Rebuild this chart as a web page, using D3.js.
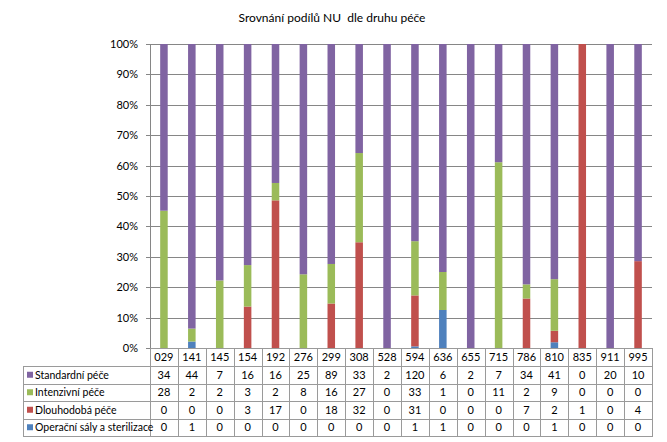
<!DOCTYPE html>
<html><head><meta charset="utf-8">
<script src="https://cdn.jsdelivr.net/npm/d3@7"></script>
<style>body{margin:0;background:#fff}svg{display:block}text{font-family:"Lato","Liberation Sans",sans-serif;fill:#000;white-space:pre}</style>
</head><body><svg id="c" width="667" height="442"></svg>
<script>
const title = "Srovnání podílů NU  dle druhu péče";
const categories = ["029","141","145","154","192","276","299","308","528","594","636","655","715","786","810","835","911","995"];
const seriesNames = ["Standardní péče","Intenzivní péče","Dlouhodobá péče","Operační sály a sterilizace"];
const standardni = [34,44,7,16,16,25,89,33,2,120,6,2,7,34,41,0,20,10];
const intenzivni = [28,2,2,3,2,8,16,27,0,33,1,0,11,2,9,0,0,0];
const dlouhodoba = [0,0,0,3,17,0,18,32,0,31,0,0,0,7,2,1,0,4];
const operacni = [0,1,0,0,0,0,0,0,0,1,1,0,0,0,1,0,0,0];
const colors = ["#8064A2","#9BBB59","#C0504D","#4F81BD"];
const yTicks = [0,0.1,0.2,0.3,0.4,0.5,0.6,0.7,0.8,0.9,1];

const seriesVals = [standardni,intenzivni,dlouhodoba,operacni];
const svg = d3.select("#c");
const L=150, R=652, T=44, B=348;
const x = d3.scaleBand().domain(categories).range([L,R]).paddingInner(0.73).paddingOuter(0.365);
const xc = d3.scaleBand().domain(categories).range([L,R]);
const y = d3.scaleLinear().domain([0,1]).range([B,T]);

svg.append("text").attr("x",332).attr("y",22).attr("text-anchor","middle").style("font-size","12px")
  .attr("xml:space","preserve").text(title);

// gridlines
svg.append("g").selectAll("line").data(yTicks).join("line")
  .attr("x1",L-4).attr("x2",R).attr("y1",d=>Math.round(y(d))+0.5).attr("y2",d=>Math.round(y(d))+0.5)
  .attr("stroke","#868686").attr("stroke-width",1);
svg.append("line").attr("x1",L+0.5).attr("x2",L+0.5).attr("y1",T).attr("y2",B).attr("stroke","#868686");
svg.append("g").selectAll("text").data(yTicks).join("text")
  .attr("x",L-12).attr("y",d=>y(d)+4).attr("text-anchor","end").style("font-size","11px")
  .text(d3.format(".0%"));

// stack: bottom order operacni, dlouhodoba, intenzivni, standardni
const rows = categories.map((c,i)=>{const o={cat:c}; seriesNames.forEach((s,k)=>o[s]=seriesVals[k][i]); return o;});
const stack = d3.stack().keys(seriesNames.slice().reverse()).offset(d3.stackOffsetExpand);
const layers = stack(rows);
svg.append("g").selectAll("g").data(layers).join("g")
  .attr("fill",d=>colors[seriesNames.indexOf(d.key)])
  .selectAll("rect").data(d=>d.filter(p=>!isNaN(p[1]))).join("rect")
  .attr("x",d=>x(d.data.cat)).attr("width",x.bandwidth())
  .attr("y",d=>y(d[1])).attr("height",d=>Math.max(0,y(d[0])-y(d[1])));

// data table
const tb = svg.append("g");
const rowTops=[348,366,383.5,401,418.5,436];
const TL=23;
const stroke="#9a9a9a";
rowTops.forEach((ry,i)=>{
  tb.append("line").attr("x1",i===0?L:TL).attr("x2",R+1).attr("y1",Math.round(ry)+0.5).attr("y2",Math.round(ry)+0.5).attr("stroke",stroke);
});
categories.forEach((c,i)=>{
  tb.append("line").attr("x1",Math.round(xc(c))+0.5).attr("x2",Math.round(xc(c))+0.5).attr("y1",348).attr("y2",436).attr("stroke",stroke);
});
tb.append("line").attr("x1",R+0.5).attr("x2",R+0.5).attr("y1",348).attr("y2",436).attr("stroke",stroke);
tb.append("line").attr("x1",TL+0.5).attr("x2",TL+0.5).attr("y1",366).attr("y2",436).attr("stroke",stroke);
tb.selectAll("text.h").data(categories).join("text").attr("class","h")
  .attr("x",d=>xc(d)+xc.bandwidth()/2).attr("y",361).attr("text-anchor","middle").style("font-size","11px").text(d=>d);
seriesNames.forEach((s,k)=>{
  const cy=(rowTops[k+1]+rowTops[k+2])/2;
  tb.append("rect").attr("x",TL+4).attr("y",cy-3).attr("width",6).attr("height",6).attr("fill",colors[k]);
  tb.append("text").attr("x",TL+12).attr("y",cy+4).style("font-size","10.5px").text(s);
  tb.selectAll(null).data(seriesVals[k]).join("text")
    .attr("x",(d,i)=>xc(categories[i])+xc.bandwidth()/2).attr("y",cy+4).attr("text-anchor","middle").style("font-size","11px").text(d=>d);
});
</script></body></html>
